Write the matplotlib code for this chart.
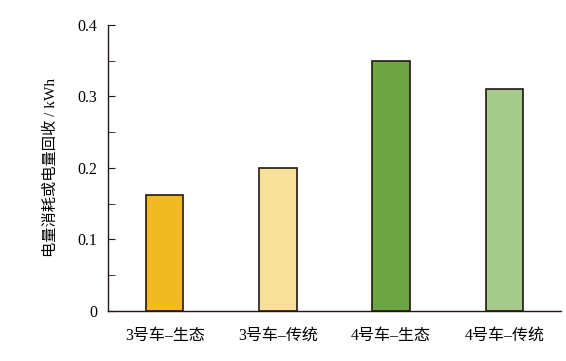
import matplotlib.pyplot as plt
from matplotlib.ticker import MultipleLocator, FuncFormatter

plt.rcParams['font.family'] = ['Liberation Serif', 'Noto Sans CJK SC']

categories = ['3号车–生态', '3号车–传统', '4号车–生态', '4号车–传统']
values = [0.162, 0.200, 0.349, 0.311]
colors = ['#F2BA22', '#F8E09B', '#6EA646', '#A5CA8B']

fig = plt.figure(figsize=(5.66, 3.61), dpi=100)
ax = fig.add_axes([0.191, 0.1385, 0.8, 0.7925])

ax.bar(range(len(categories)), values, width=0.33, color=colors,
       edgecolor='#231815', linewidth=1.2)

ax.set_xlim(-0.5, 3.5)
ax.set_ylim(0, 0.4)
ax.yaxis.set_major_locator(MultipleLocator(0.1))
ax.yaxis.set_minor_locator(MultipleLocator(0.05))
ax.yaxis.set_major_formatter(FuncFormatter(lambda v, p: '0' if abs(v) < 1e-9 else f'{v:.1f}'))
ax.set_xticks(range(len(categories)))
ax.set_xticklabels(categories)

for s in ['top', 'right']:
    ax.spines[s].set_visible(False)
for s in ['left', 'bottom']:
    ax.spines[s].set_color('#231815')
    ax.spines[s].set_linewidth(1.0)

ax.tick_params(axis='y', which='major', direction='in', length=5, color='#231815',
               labelsize=11.5, pad=8)
ax.tick_params(axis='y', which='minor', direction='in', length=5, color='#231815')
ax.tick_params(axis='x', length=0, labelsize=11.5, pad=12)

ax.set_ylabel('电量消耗或电量回收 / kWh', fontsize=11, labelpad=14)

fig.savefig('out.png', dpi=100)
